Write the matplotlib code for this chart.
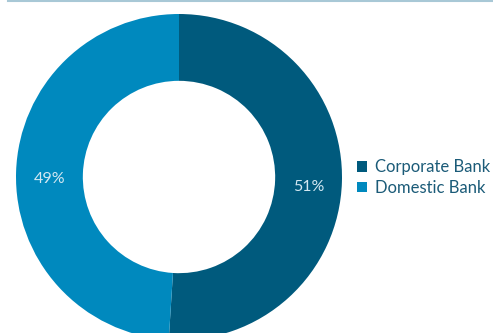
import matplotlib
matplotlib.use("Agg")
import numpy as np
import matplotlib.pyplot as plt
from matplotlib.lines import Line2D

plt.rcParams['font.family'] = ['Lato', 'DejaVu Sans']

# Share of business by segment
segments = ['Corporate Bank', 'Domestic Bank']
shares = [51, 49]
colors = ['#005a7d', '#0089be']

W, H = 493, 333
fig = plt.figure(figsize=(W / 100, H / 100), dpi=100)

# donut centred at (179, 177) px from top-left, outer radius 163 px
cx, cy, r = 179, 177, 163
ax = fig.add_axes([(cx - r) / W, (H - cy - r) / H, 2 * r / W, 2 * r / H])

wedges, _ = ax.pie(
    shares, colors=colors, startangle=90, counterclock=False, radius=1,
    wedgeprops=dict(width=0.41, edgecolor='none'),
)
ax.set_xlim(-1, 1)
ax.set_ylim(-1, 1)
ax.set_aspect('equal')
ax.axis('off')

# percentage labels in the middle of each ring segment
for w, s in zip(wedges, shares):
    mid = np.deg2rad((w.theta1 + w.theta2) / 2)
    ax.text(0.795 * np.cos(mid), 0.795 * np.sin(mid) - 0.035, f'{s}%',
            ha='center', va='center', color='#d3e8f2', fontsize=11.5)

# thin rule along the top edge
fig.add_artist(Line2D([8 / W, 1], [1 - 0.8 / H, 1 - 0.8 / H],
                      transform=fig.transFigure, color='#a8c8d6', lw=1.5))

fig.legend(wedges, segments, loc='center left',
           bbox_to_anchor=(357 / W, 1 - 177.5 / H), frameon=False,
           borderpad=0, borderaxespad=0,
           fontsize=12, labelcolor='#1b5b78',
           handlelength=0.62, handleheight=0.62, handletextpad=0.45,
           labelspacing=0.28)

fig.savefig('out.png', dpi=100)
